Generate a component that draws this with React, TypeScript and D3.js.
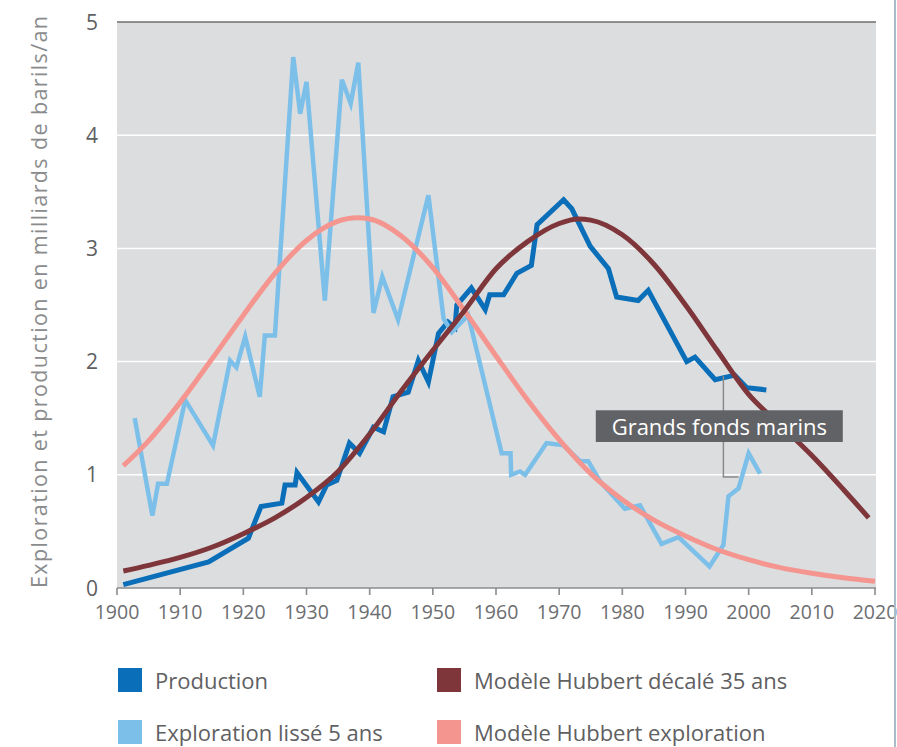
import React from "react";
import * as d3 from "d3";

// ---------- data ----------
const productionYears = [1901, 1914.5, 1920.8, 1922.8, 1926.1, 1926.6, 1928.2, 1928.5, 1931.9, 1933.2, 1934.8, 1936.8, 1938.4, 1940.6, 1942.2, 1943.7, 1946.1, 1947.7, 1949.3, 1950.9, 1952.4, 1953.5, 1953.8, 1956.1, 1958.3, 1959.0, 1961.2, 1963.3, 1965.6, 1966.5, 1970.7, 1972.0, 1974.9, 1977.8, 1979.1, 1982.5, 1984.1, 1990.2, 1991.5, 1994.7, 1997.8, 1999.7, 2002.8];
const productionValues = [0.03, 0.23, 0.44, 0.72, 0.75, 0.91, 0.91, 1.02, 0.76, 0.91, 0.95, 1.28, 1.19, 1.42, 1.38, 1.69, 1.73, 2.01, 1.82, 2.25, 2.35, 2.3, 2.5, 2.65, 2.46, 2.59, 2.59, 2.78, 2.85, 3.21, 3.43, 3.35, 3.02, 2.82, 2.57, 2.54, 2.63, 2.0, 2.04, 1.84, 1.88, 1.77, 1.75];

const explorationYears = [1902.8, 1905.6, 1906.5, 1907.9, 1910.8, 1915.2, 1917.9, 1918.9, 1920.3, 1922.6, 1923.4, 1925.0, 1927.9, 1929.0, 1930.0, 1932.9, 1935.6, 1937.0, 1938.2, 1940.6, 1942.0, 1944.5, 1949.3, 1951.7, 1953.0, 1955.6, 1960.9, 1962.3, 1962.4, 1963.8, 1964.6, 1968.0, 1970.7, 1973.3, 1974.6, 1976.5, 1980.4, 1982.8, 1986.2, 1988.9, 1993.8, 1996.0, 1996.8, 1998.4, 2000.0, 2001.8];
const explorationValues = [1.5, 0.64, 0.92, 0.92, 1.66, 1.26, 2.01, 1.95, 2.22, 1.69, 2.23, 2.23, 4.69, 4.19, 4.47, 2.54, 4.49, 4.28, 4.64, 2.43, 2.75, 2.37, 3.47, 2.38, 2.26, 2.41, 1.19, 1.19, 1.0, 1.03, 1.0, 1.28, 1.26, 1.12, 1.12, 0.94, 0.7, 0.73, 0.39, 0.45, 0.19, 0.38, 0.81, 0.88, 1.19, 1.01];

const hubbertShiftYears = [1901, 1905, 1910, 1915, 1920, 1925, 1930, 1935, 1940, 1945, 1950, 1955, 1960, 1965, 1970, 1973, 1975, 1980, 1985, 1990, 1995, 2000, 2005, 2010, 2015, 2019];
const hubbertShiftValues = [0.15, 0.2, 0.27, 0.36, 0.48, 0.62, 0.8, 1.03, 1.36, 1.74, 2.1, 2.45, 2.82, 3.06, 3.22, 3.26, 3.25, 3.12, 2.86, 2.5, 2.1, 1.71, 1.44, 1.17, 0.87, 0.62];

const hubbertExploYears = [1901, 1905, 1910, 1915, 1920, 1925, 1930, 1935, 1938, 1940, 1945, 1950, 1955, 1960, 1965, 1970, 1975, 1980, 1985, 1990, 1995, 2000, 2005, 2010, 2015, 2020];
const hubbertExploValues = [1.08, 1.3, 1.64, 2.02, 2.41, 2.78, 3.07, 3.24, 3.27, 3.26, 3.11, 2.83, 2.45, 2.05, 1.66, 1.31, 1.01, 0.78, 0.6, 0.46, 0.34, 0.25, 0.18, 0.13, 0.09, 0.06];

const xTicks = [1900, 1910, 1920, 1930, 1940, 1950, 1960, 1970, 1980, 1990, 2000, 2010, 2020];
const yTicks = [0, 1, 2, 3, 4, 5];

const legendLabels = ["Production", "Modèle Hubbert décalé 35 ans", "Exploration lissé 5 ans", "Modèle Hubbert exploration"];
const legendColors = ["#0a6fb8", "#7e363b", "#7cc0ea", "#f4958f"];

const yAxisTitle = "Exploration et production en milliards de barils/an";
const annotationText = "Grands fonds marins";
// callout: year, from value, to value, end year
const annotationYear = 1996;
const annotationFrom = 1.87;
const annotationTo = 0.98;
const annotationEndYear = 1998.4;

const FONT = "'Open Sans', 'DejaVu Sans', sans-serif";

export default function App() {
  const W = 897, H = 747;
  const x = d3.scaleLinear().domain([1900, 2020]).range([117, 875]);
  const y = d3.scaleLinear().domain([0, 5]).range([588, 22]);

  const pts = (ys: number[], vs: number[]) => ys.map((yr, i) => [yr, vs[i]] as [number, number]);
  const lin = d3.line<[number, number]>().x(d => x(d[0])).y(d => y(d[1]));
  const smooth = d3.line<[number, number]>().x(d => x(d[0])).y(d => y(d[1])).curve(d3.curveMonotoneX);

  const left = x(1900), right = x(2020) + 1, top = y(5), bottom = y(0);

  const boxLeft = x(1975.8), boxRight = x(2014.9), boxTop = y(1.57), boxBottom = y(1.29);

  return (
    <svg width={W} height={H} style={{ position: "absolute", left: 0, top: 0, background: "#fff" }} fontFamily={FONT}>
      <rect x={left} y={top} width={right - left} height={bottom - top} fill="#dcdddf" />
      {yTicks.filter(t => t > 0 && t < 5).map(t => (
        <line key={t} x1={left} x2={right} y1={y(t)} y2={y(t)} stroke="#ffffff" strokeWidth={1.5} />
      ))}
      <line x1={left} x2={right} y1={top} y2={top} stroke="#6d6e71" strokeWidth={1.6} />
      <line x1={left} x2={right} y1={bottom} y2={bottom} stroke="#8a8b8d" strokeWidth={1.6} />
      {xTicks.map(t => (
        <g key={t}>
          <line x1={x(t)} x2={x(t)} y1={bottom} y2={bottom + 7} stroke="#8a8b8d" strokeWidth={1.6} />
          <text x={x(t)} y={619} textAnchor="middle" fontSize={19.5} fill="#6d6e71">{t}</text>
        </g>
      ))}
      {yTicks.map(t => (
        <text key={t} x={98} y={y(t) + 7.5} textAnchor="end" fontSize={21} fill="#5f6062">{t}</text>
      ))}
      <text transform={`translate(47, 302) rotate(-90)`} textAnchor="middle" fontSize={21.5} fill="#8a8b8d" textLength={572} lengthAdjust="spacing">{yAxisTitle}</text>

      <path d={lin(pts(productionYears, productionValues)) || ""} fill="none" stroke={legendColors[0]} strokeWidth={5} />
      <path d={lin(pts(explorationYears, explorationValues)) || ""} fill="none" stroke={legendColors[2]} strokeWidth={4.5} />
      <path d={smooth(pts(hubbertExploYears, hubbertExploValues)) || ""} fill="none" stroke={legendColors[3]} strokeWidth={5} />
      <path d={smooth(pts(hubbertShiftYears, hubbertShiftValues)) || ""} fill="none" stroke={legendColors[1]} strokeWidth={5} />

      <path d={`M${x(annotationYear)},${y(annotationFrom)}V${y(annotationTo)}H${x(annotationEndYear)}`} fill="none" stroke="#8a8b8d" strokeWidth={1.5} />
      <rect x={boxLeft} y={boxTop} width={boxRight - boxLeft} height={boxBottom - boxTop} fill="#616265" />
      <text x={(boxLeft + boxRight) / 2} y={boxBottom - 7} textAnchor="middle" fontSize={22} fill="#ffffff">{annotationText}</text>

      {legendLabels.map((lab, i) => {
        const col = i % 2, row = Math.floor(i / 2);
        const sx = col === 0 ? 118 : 437;
        const sy = row === 0 ? 668 : 720;
        return (
          <g key={lab}>
            <rect x={sx} y={sy} width={24} height={24} fill={legendColors[i]} />
            <text x={sx + 37} y={sy + 21} fontSize={22} fill="#5f6062">{lab}</text>
          </g>
        );
      })}

      <line x1={895} x2={895} y1={0} y2={H} stroke="#a9bcc9" strokeWidth={2} />
    </svg>
  );
}
